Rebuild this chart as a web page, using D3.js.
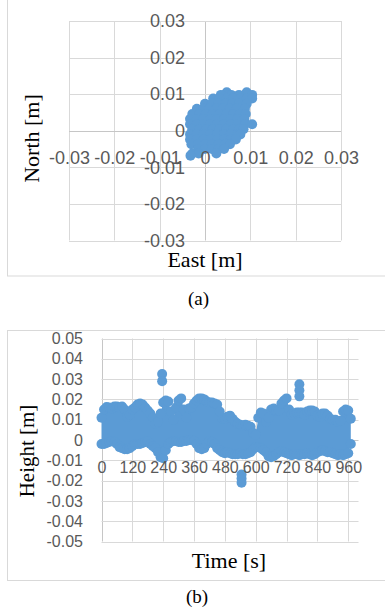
<!DOCTYPE html>
<html><head><meta charset="utf-8">
<script src="https://cdn.jsdelivr.net/npm/d3@7"></script>
<style>body{margin:0;background:#fff}svg{display:block}</style>
</head><body>
<svg id="c" width="385" height="615"></svg>
<script>
// ---------- (a) horizontal scatter: East / North [m] ----------
const eastTicks  = [-0.03, -0.02, -0.01, 0, 0.01, 0.02, 0.03];
const northTicks = [-0.03, -0.02, -0.01, 0, 0.01, 0.02, 0.03];
// cloud of points, one north level per row with the east readings on that row
const cloudNorth = [0.0105, 0.0098, 0.0088, 0.0074, 0.006, 0.0046, 0.0032, 0.0018,
                    0.0004, -0.001, -0.0024, -0.0037, -0.005, -0.0062, -0.0068];
const cloudEast = [
  [0.0048, 0.0092],
  [0.0035, 0.0058, 0.0075, 0.0104],
  [0.0018, 0.0032, 0.0048, 0.0062, 0.0078, 0.0092, 0.0104],
  [0.0000, 0.0015, 0.0030, 0.0045, 0.0060, 0.0075, 0.0092],
  [-0.0018, -0.0004, 0.0010, 0.0025, 0.0040, 0.0055, 0.0070, 0.0088],
  [-0.0028, -0.0013, 0.0002, 0.0017, 0.0032, 0.0047, 0.0062, 0.0077, 0.0090],
  [-0.0033, -0.0018, -0.0003, 0.0012, 0.0027, 0.0042, 0.0057, 0.0072, 0.0087],
  [-0.0033, -0.0018, -0.0003, 0.0012, 0.0027, 0.0042, 0.0057, 0.0072, 0.0088, 0.0104],
  [-0.0028, -0.0013, 0.0002, 0.0017, 0.0032, 0.0047, 0.0062, 0.0076, 0.0085],
  [-0.0033, -0.0018, -0.0003, 0.0012, 0.0027, 0.0042, 0.0057, 0.0072, 0.0078],
  [-0.0033, -0.0018, -0.0003, 0.0012, 0.0027, 0.0042, 0.0057, 0.0068],
  [-0.0030, -0.0015, 0.0000, 0.0015, 0.0030, 0.0045, 0.0055],
  [-0.0015, 0.0000, 0.0015, 0.0030, 0.0042],
  [-0.0028, -0.0014, 0.0025],
  [-0.0032]
];

// ---------- (b) height time series ----------
const timeTicks   = [0, 120, 240, 360, 480, 600, 720, 840, 960];
const heightTicks = [-0.05, -0.04, -0.03, -0.02, -0.01, 0, 0.01, 0.02, 0.03, 0.04, 0.05];
const timeS = [0,10,20,30,40,50,60,70,80,90,100,110,120,130,140,150,160,170,180,190,
  200,210,220,230,240,250,260,270,280,290,300,310,320,330,340,350,360,370,380,390,
  400,410,420,430,440,450,460,470,480,490,500,510,520,530,540,550,560,570,580,590,
  600,610,620,630,640,650,660,670,680,690,700,710,720,730,740,750,760,770,780,790,
  800,810,820,830,840,850,860,870,880,890,900,910,920,930,940,950,960,970];
// upper and lower readings of the dense band of samples
const heightUpper = [0.011,0.015,0.0162,0.016,0.0155,0.0165,0.0165,0.016,0.0165,0.015,
  0.0115,0.0125,0.015,0.016,0.0175,0.018,0.0175,0.016,0.0145,0.013,
  0.011,0.008,0.009,0.013,0.0185,0.0195,0.019,0.014,0.01,0.016,
  0.0195,0.0205,0.015,0.011,0.0155,0.016,0.018,0.0195,0.0205,0.0205,
  0.02,0.019,0.0185,0.0185,0.018,0.0175,0.014,0.0105,0.0105,0.0115,
  0.012,0.0105,0.009,0.008,0.0075,0.007,0.0075,0.007,0.0065,0.0035,
  0.0025,0.011,0.0135,0.013,0.009,0.011,0.015,0.0155,0.0145,0.0145,
  0.018,0.0195,0.0205,0.015,0.0125,0.013,0.0135,0.0135,0.0135,0.0125,
  0.014,0.0145,0.0145,0.014,0.012,0.0115,0.013,0.013,0.012,0.0105,
  0.01,0.01,0.009,0.0095,0.014,0.015,0.0145,0.0105];
const heightLower = [-0.002,-0.002,-0.0015,-0.001,-0.0005,-0.001,-0.002,-0.0035,-0.004,-0.0045,
  -0.0045,-0.004,-0.003,-0.002,-0.002,-0.002,-0.0015,-0.001,-0.0005,-0.002,
  -0.003,-0.004,-0.006,-0.0085,-0.009,-0.005,-0.002,-0.001,-0.0005,-0.0005,
  -0.001,-0.001,-0.0005,-0.0005,0,0,-0.0005,-0.002,-0.004,-0.0045,
  -0.004,-0.002,-0.0005,-0.001,-0.002,-0.004,-0.005,-0.006,-0.0065,-0.006,
  -0.0065,-0.007,-0.007,-0.007,-0.0065,-0.007,-0.007,-0.0065,-0.006,-0.0045,
  -0.0035,-0.0035,-0.004,-0.005,-0.006,-0.008,-0.0085,-0.008,-0.007,-0.006,
  -0.0055,-0.006,-0.0065,-0.007,-0.0075,-0.007,-0.007,-0.0075,-0.007,-0.007,
  -0.0065,-0.007,-0.0075,-0.007,-0.006,-0.0055,-0.005,-0.0055,-0.006,-0.006,
  -0.0065,-0.007,-0.0075,-0.007,-0.0075,-0.007,-0.0065,-0.002];
// isolated samples outside the band
const spikeTimes   = [236, 236, 545, 545, 545, 770, 770, 770];
const spikeHeights = [0.0325, 0.029, -0.017, -0.019, -0.021, 0.0275, 0.0245, 0.0215];

// ---------- drawing ----------
const BLUE = "#5b9bd5", GRID = "#d9d9d9", AXIS = "#c6c6c6", LABEL = "#595959";
const SANS = "'Liberation Sans', Arial, sans-serif";
const SERIF = "'Liberation Serif', 'Times New Roman', serif";
const svg = d3.select("#c");
const crisp = v => Math.round(v) + 0.5;
const fmt = d => d === 0 ? "0" : d.toFixed(2);

// chart frames
svg.append("rect").attr("x", 7.5).attr("y", -2).attr("width", 400).attr("height", 278)
  .attr("fill", "none").attr("stroke", GRID);
svg.append("rect").attr("x", 7.5).attr("y", 330.5).attr("width", 400).attr("height", 250)
  .attr("fill", "none").attr("stroke", GRID);

// ----- chart (a)
const xA = d3.scaleLinear().domain([-0.03, 0.03]).range([69, 341]);
const yA = d3.scaleLinear().domain([-0.03, 0.03]).range([240.5, 21]);
const gA = svg.append("g");
gA.selectAll("line.vx").data(eastTicks).join("line")
  .attr("x1", d => crisp(xA(d))).attr("x2", d => crisp(xA(d)))
  .attr("y1", yA(-0.03)).attr("y2", yA(0.03))
  .attr("stroke", d => d === 0 ? AXIS : GRID).attr("stroke-width", 1);
gA.selectAll("line.hy").data(northTicks).join("line")
  .attr("y1", d => crisp(yA(d))).attr("y2", d => crisp(yA(d)))
  .attr("x1", xA(-0.03)).attr("x2", xA(0.03))
  .attr("stroke", d => d === 0 ? AXIS : GRID).attr("stroke-width", 1);

const cloud = [];
cloudNorth.forEach((n, i) => cloudEast[i].forEach(e => cloud.push([e, n])));
gA.append("g").selectAll("circle").data(cloud).join("circle")
  .attr("cx", d => xA(d[0])).attr("cy", d => yA(d[1])).attr("r", 5).attr("fill", BLUE);

function styleAxis(g, size) {
  g.select(".domain").remove();
  g.attr("font-family", SANS).attr("font-size", size).attr("color", LABEL);
}
gA.append("g").attr("transform", `translate(${xA(0)},0)`)
  .call(d3.axisLeft(yA).tickValues(northTicks).tickSize(0).tickPadding(20).tickFormat(fmt))
  .call(g => styleAxis(g, 18));
gA.append("g").attr("transform", `translate(0,${yA(0)})`)
  .call(d3.axisBottom(xA).tickValues(eastTicks).tickSize(0).tickPadding(20).tickFormat(fmt))
  .call(g => styleAxis(g, 18));

gA.append("text").attr("transform", "translate(39,138.5) rotate(-90)")
  .attr("text-anchor", "middle").attr("font-family", SERIF).attr("font-size", 22).text("North [m]");
gA.append("text").attr("x", 205).attr("y", 266.5)
  .attr("text-anchor", "middle").attr("font-family", SERIF).attr("font-size", 22).text("East [m]");
svg.append("text").attr("x", 198.5).attr("y", 305)
  .attr("text-anchor", "middle").attr("font-family", SERIF).attr("font-size", 19).text("(a)");

// ----- chart (b)
const xB = d3.scaleLinear().domain([0, 1000]).range([101.5, 358.5]);
const yB = d3.scaleLinear().domain([-0.05, 0.05]).range([541.5, 338.5]);
const gB = svg.append("g");
gB.selectAll("line.vt").data(timeTicks).join("line")
  .attr("x1", d => crisp(xB(d))).attr("x2", d => crisp(xB(d)))
  .attr("y1", yB(-0.05)).attr("y2", yB(0.05))
  .attr("stroke", d => d === 0 ? AXIS : GRID);
gB.selectAll("line.hh").data(heightTicks).join("line")
  .attr("y1", d => crisp(yB(d))).attr("y2", d => crisp(yB(d)))
  .attr("x1", xB(0)).attr("x2", xB(1000))
  .attr("stroke", d => d === 0 ? AXIS : GRID);

const band = d3.area()
  .x(i => xB(timeS[i])).y0(i => yB(heightLower[i])).y1(i => yB(heightUpper[i]));
gB.append("path").attr("d", band(d3.range(timeS.length))).attr("fill", BLUE);
const dots = [];
timeS.forEach((t, i) => { dots.push([t, heightUpper[i]]); dots.push([t, heightLower[i]]); });
spikeTimes.forEach((t, i) => dots.push([t, spikeHeights[i]]));
gB.append("g").selectAll("circle").data(dots).join("circle")
  .attr("cx", d => xB(d[0])).attr("cy", d => yB(d[1])).attr("r", 5).attr("fill", BLUE);

gB.append("g").attr("transform", `translate(${xB(0)},0)`)
  .call(d3.axisLeft(yB).tickValues(heightTicks).tickSize(0).tickPadding(18.5).tickFormat(fmt))
  .call(g => styleAxis(g, 16));
gB.append("g").attr("transform", `translate(0,${yB(0)})`)
  .call(d3.axisBottom(xB).tickValues(timeTicks).tickSize(0).tickPadding(21.5).tickFormat(d => String(d)))
  .call(g => styleAxis(g, 16));

gB.append("text").attr("transform", "translate(34,451) rotate(-90)")
  .attr("text-anchor", "middle").attr("font-family", SERIF).attr("font-size", 21).text("Height [m]");
gB.append("text").attr("x", 229).attr("y", 568)
  .attr("text-anchor", "middle").attr("font-family", SERIF).attr("font-size", 22).text("Time [s]");
svg.append("text").attr("x", 197).attr("y", 603)
  .attr("text-anchor", "middle").attr("font-family", SERIF).attr("font-size", 19).text("(b)");
</script>
</body></html>
